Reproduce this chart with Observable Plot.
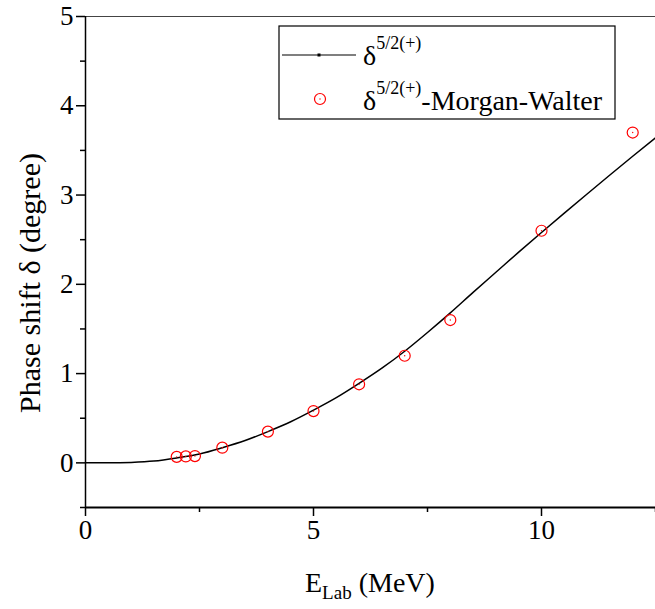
<!DOCTYPE html>
<html>
<head>
<meta charset="utf-8">
<script src="https://cdn.jsdelivr.net/npm/d3@7"></script>
<script src="https://cdn.jsdelivr.net/npm/@observablehq/plot@0.6"></script>
<style>
  html, body { margin: 0; padding: 0; background: white; }
</style>
</head>
<body>
<div id="chart"></div>
<script>
// Calculated phase shift curve δ^{5/2(+)} (E in MeV, δ in degree)
const curveE = [0, 0.5, 1, 1.5, 2, 2.5, 3, 3.5, 4, 4.5, 5, 5.5, 6, 6.5, 7, 7.5, 8, 8.5, 9, 9.5, 10, 10.5, 11, 11.5, 12, 12.5];
const curveDelta = [0, 0.0, 0.005, 0.02, 0.055, 0.1, 0.17, 0.25, 0.35, 0.46, 0.59, 0.73, 0.89, 1.06, 1.25, 1.46, 1.68, 1.91, 2.135, 2.36, 2.58, 2.797, 3.012, 3.225, 3.435, 3.64];
// Morgan-Walter points
const mwE = [2.0, 2.2, 2.4, 3, 4, 5, 6, 7, 8, 10, 12];
const mwDelta = [0.067, 0.072, 0.076, 0.17, 0.35, 0.58, 0.88, 1.2, 1.6, 2.6, 3.7];
const xMajor = [0, 5, 10];
const xMinor = [2.5, 7.5, 12.5];
const yMajor = [0, 1, 2, 3, 4, 5];
const yMinor = [-0.5, 0.5, 1.5, 2.5, 3.5, 4.5];

const curve = curveE.map((e, i) => ({e, d: curveDelta[i]}));
const mw = mwE.map((e, i) => ({e, d: mwDelta[i]}));

const font = "'Liberation Serif', 'Times New Roman', serif";

const plot = Plot.plot({
  width: 655,
  height: 609,
  marginLeft: 85,
  marginRight: 0,
  marginTop: 16,
  marginBottom: 102,
  style: {fontFamily: font, background: "white", color: "black", overflow: "visible"},
  x: {domain: [0, 12.5]},
  y: {domain: [-0.5, 5]},
  marks: [
    Plot.ruleY([5], {stroke: "#444", strokeWidth: 1}),
    Plot.axisX({ticks: xMajor, tickSize: 9, tickPadding: 3, fontSize: 27, strokeWidth: 1.5, tickFormat: d3.format("d"), label: null}),
    Plot.axisX({ticks: xMinor, tickSize: 5, text: null, strokeWidth: 1.5, label: null}),
    Plot.axisY({ticks: yMajor, tickSize: 9, tickPadding: 3, fontSize: 27, strokeWidth: 1.5, tickFormat: d3.format("d"), label: null}),
    Plot.axisY({ticks: yMinor, tickSize: 5, text: null, strokeWidth: 1.5, label: null}),
    Plot.ruleX([0], {strokeWidth: 1.5}),
    Plot.ruleY([-0.5], {strokeWidth: 2}),
    Plot.line(curve, {x: "e", y: "d", stroke: "black", strokeWidth: 1.5, curve: "monotone-x"}),
    Plot.dot(mw, {x: "e", y: "d", r: 5.5, stroke: "red", strokeWidth: 1.2, fill: "none"}),
    Plot.dot(mw, {x: "e", y: "d", r: 0.7, fill: "red", stroke: "none"})
  ]
});

document.getElementById("chart").appendChild(plot);

const svg = d3.select(plot);

// Y axis title
svg.append("text")
  .attr("transform", "translate(40,283) rotate(-90)")
  .attr("text-anchor", "middle")
  .attr("font-family", font)
  .attr("font-size", 30)
  .attr("fill", "black")
  .text("Phase shift δ (degree)");

// X axis title with subscript
const xt = svg.append("text")
  .attr("x", 305).attr("y", 592)
  .attr("text-anchor", "start")
  .attr("font-family", font)
  .attr("font-size", 28)
  .attr("fill", "black");
xt.append("tspan").text("E");
xt.append("tspan").attr("font-size", 19).attr("dy", 7).text("Lab");
xt.append("tspan").attr("dy", -7).text(" (MeV)");

// Legend
const lg = svg.append("g");
lg.append("rect").attr("x", 279).attr("y", 26).attr("width", 336).attr("height", 93)
  .attr("fill", "white").attr("stroke", "black").attr("stroke-width", 1.2);
lg.append("line").attr("x1", 282).attr("x2", 356).attr("y1", 55).attr("y2", 55)
  .attr("stroke", "black").attr("stroke-width", 1.2);
lg.append("rect").attr("x", 317.5).attr("y", 53.5).attr("width", 3).attr("height", 3).attr("fill", "black");
lg.append("circle").attr("cx", 320).attr("cy", 99).attr("r", 5.5)
  .attr("fill", "none").attr("stroke", "red").attr("stroke-width", 1.2);
lg.append("circle").attr("cx", 320).attr("cy", 99).attr("r", 0.7).attr("fill", "red");

function legendText(y, suffix) {
  const t = lg.append("text").attr("x", 363).attr("y", y)
    .attr("text-anchor", "start")
    .attr("font-family", font).attr("font-size", 28).attr("fill", "black");
  t.append("tspan").text("δ");
  t.append("tspan").attr("font-size", 18).attr("dy", -16).text("5/2(+)");
  if (suffix) t.append("tspan").attr("dy", 16).text(suffix);
}
legendText(65, "");
legendText(110, "-Morgan-Walter");
</script>
</body>
</html>
